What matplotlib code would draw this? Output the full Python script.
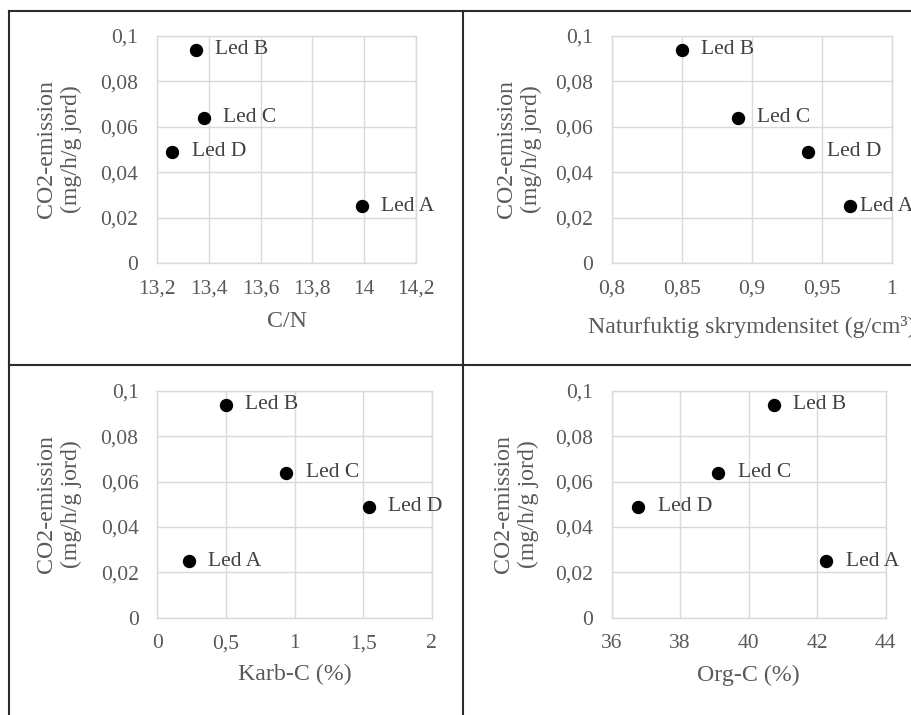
import matplotlib.pyplot as plt
import matplotlib.transforms as mtransforms
from matplotlib.lines import Line2D
from matplotlib.ticker import MultipleLocator, FuncFormatter

plt.rcParams['font.family'] = ['Liberation Serif', 'DejaVu Serif']
plt.rcParams['font.size'] = 15.5

led_labels = ['Led A', 'Led B', 'Led C', 'Led D']
co2 = [0.025, 0.094, 0.064, 0.049]

cn = [13.99, 13.35, 13.38, 13.26]
density = [0.97, 0.85, 0.89, 0.94]
karb_c = [0.23, 0.50, 0.94, 1.54]
org_c = [42.27, 40.74, 39.11, 36.78]

y_label = 'CO2-emission\n(mg/h/g jord)'
grid_col = '#d9d9d9'
text_col = '#595959'
title_size = 17.2


def comma_fmt(v, pos):
    return f"{round(v, 6):g}".replace('.', ',')


def scatter_panel(fig, rect, xvals, xlim, xstep, xlabel, ylab_x, xlab_y, offsets):
    ax = fig.add_axes(rect)
    ax.plot(xvals, co2, 'o', color='black', ms=8.6, zorder=3)
    for x, y, lab, off in zip(xvals, co2, led_labels, offsets):
        ax.annotate(lab, (x, y), xytext=(off, 0), textcoords='offset points',
                    ha='left', va='center', color='#404040',
                    annotation_clip=False)
    ax.set_xlim(*xlim)
    ax.set_ylim(0, 0.1)
    ax.xaxis.set_major_locator(MultipleLocator(xstep))
    ax.yaxis.set_major_locator(MultipleLocator(0.02))
    ax.xaxis.set_major_formatter(FuncFormatter(comma_fmt))
    ax.yaxis.set_major_formatter(FuncFormatter(comma_fmt))
    ax.grid(True, color=grid_col, lw=1)
    ax.set_axisbelow(True)
    for sp in ax.spines.values():
        sp.set_color(grid_col)
        sp.set_linewidth(1)
    ax.tick_params(axis='both', length=0, colors=text_col)
    ax.tick_params(axis='x', pad=12)
    ax.tick_params(axis='y', pad=13.5)

    ax.set_xlabel(xlabel, color=text_col, fontsize=title_size)
    ax.xaxis.set_label_coords(0.5, xlab_y,
                              transform=mtransforms.blended_transform_factory(ax.transAxes, fig.transFigure))
    ax.xaxis.label.set_verticalalignment('baseline')

    ax.set_ylabel(y_label, color=text_col, fontsize=title_size, linespacing=1.25)
    ax.yaxis.set_label_coords(ylab_x, 0.5,
                              transform=mtransforms.blended_transform_factory(fig.transFigure, ax.transAxes))
    return ax


fig = plt.figure(figsize=(9.12, 7.15), dpi=100)

scatter_panel(fig, [0.1721, 0.6322, 0.2840, 0.3175], cn, (13.2, 14.2), 0.2, 'C/N',
              82 / 912, 1 - 327 / 715, [14, 14, 14, 14])
scatter_panel(fig, [0.6707, 0.6322, 0.3070, 0.3175], density, (0.8, 1.0), 0.05,
              'Naturfuktig skrymdensitet (g/cm³)',
              542 / 912, 1 - 333 / 715, [7.5, 14, 14, 14])
scatter_panel(fig, [0.1725, 0.1361, 0.3009, 0.3171], karb_c, (0, 2), 0.5, 'Karb-C (%)',
              82 / 912, 1 - 680 / 715, [14, 14, 14, 14])
scatter_panel(fig, [0.6707, 0.1361, 0.3004, 0.3171], org_c, (36, 44), 2, 'Org-C (%)',
              539 / 912, 1 - 681 / 715, [14, 14, 14, 14])

# table borders around the panels
bc = '#2b2b2b'
x_left, x_mid = 9.5 / 912, 463.3 / 912
y_top, y_mid = 1 - 10.5 / 715, 1 - 365 / 715
fig.add_artist(Line2D([x_left, 1], [y_top, y_top], color=bc, lw=1.5))
fig.add_artist(Line2D([x_left, 1], [y_mid, y_mid], color=bc, lw=1.5))
fig.add_artist(Line2D([x_left, x_left], [0, y_top], color=bc, lw=1.5))
fig.add_artist(Line2D([x_mid, x_mid], [0, y_top], color=bc, lw=1.5))

fig.savefig('out.png', dpi=100)
